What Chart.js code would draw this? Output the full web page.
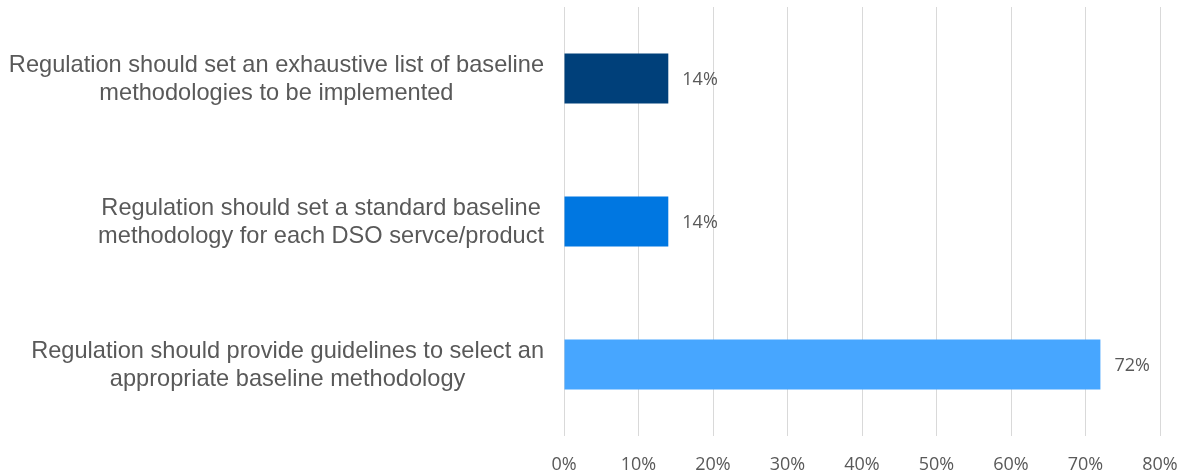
<!DOCTYPE html>
<html>
<head>
<meta charset="utf-8">
<script src="https://cdn.jsdelivr.net/npm/chart.js@4.4.1/dist/chart.umd.min.js"></script>
<style>
  html, body { margin: 0; padding: 0; background: #fff; }
  #wrap { width: 1189px; height: 474px; }
</style>
</head>
<body>
<div id="wrap"><canvas id="chart" width="1189" height="474"></canvas></div>
<script>
// data
const categories = [
  ['Regulation should set an exhaustive list of baseline', 'methodologies to be implemented'],
  ['Regulation should set a standard baseline', 'methodology for each DSO servce/product'],
  ['Regulation should provide guidelines to select an', 'appropriate baseline methodology']
]
const values = [14, 14, 72]
const barColors = ['#00407a', '#0077e1', '#47a6ff']
const xTicks = [0, 10, 20, 30, 40, 50, 60, 70, 80]

const labelColor = '#595959'

// draws the two-line category labels, each block centred and right-aligned to the axis
const catLabels = {
  id: 'catLabels',
  afterDraw(chart) {
    const ctx = chart.ctx
    const y = chart.scales.y
    ctx.save()
    ctx.font = '23.6px "Liberation Sans", Arial, sans-serif'
    ctx.fillStyle = labelColor
    ctx.textAlign = 'center'
    ctx.textBaseline = 'middle'
    const lineH = 28
    categories.forEach((lines, i) => {
      const w = Math.max(...lines.map(l => ctx.measureText(l).width))
      const cx = chart.chartArea.left - 20 - w / 2
      const cy = y.getPixelForValue(i) + 1
      lines.forEach((l, j) => {
        ctx.fillText(l, cx, cy + (j - (lines.length - 1) / 2) * lineH)
      })
    })
    ctx.restore()
  }
}

// value labels to the right of each bar
const valueLabels = {
  id: 'valueLabels',
  afterDatasetsDraw(chart) {
    const ctx = chart.ctx
    ctx.save()
    ctx.font = '18px "Open Sans", "Liberation Sans", sans-serif'
    ctx.fillStyle = labelColor
    ctx.textAlign = 'left'
    ctx.textBaseline = 'middle'
    chart.getDatasetMeta(0).data.forEach((bar, i) => {
      ctx.fillText(values[i] + '%', bar.x + 14, bar.y + 1)
    })
    ctx.restore()
  }
}

new Chart(document.getElementById('chart'), {
  type: 'bar',
  data: {
    labels: categories.map(c => c.join(' ')),
    datasets: [{
      data: values,
      backgroundColor: barColors,
      borderWidth: 0,
      barPercentage: 0.35,
      categoryPercentage: 1
    }]
  },
  options: {
    indexAxis: 'y',
    responsive: false,
    animation: false,
    layout: { padding: { top: 7, right: 29 } },
    plugins: { legend: { display: false }, tooltip: { enabled: false } },
    scales: {
      x: {
        min: 0,
        max: 80,
        afterBuildTicks: axis => { axis.ticks = xTicks.map(v => ({ value: v })) },
        afterFit: axis => {
          axis.height = 38
          axis.paddingLeft = 0
          axis.paddingRight = 0
        },
        border: { display: false },
        grid: { color: '#d9d9d9', lineWidth: 1, drawTicks: false },
        ticks: {
          padding: 18,
          color: labelColor,
          font: { family: '"Open Sans", "Liberation Sans", sans-serif', size: 18 },
          callback: v => v + '%'
        }
      },
      y: {
        afterFit: axis => { axis.width = 564 },
        border: { display: false },
        grid: { display: false },
        ticks: { display: false }
      }
    }
  },
  plugins: [catLabels, valueLabels]
})
</script>
</body>
</html>
